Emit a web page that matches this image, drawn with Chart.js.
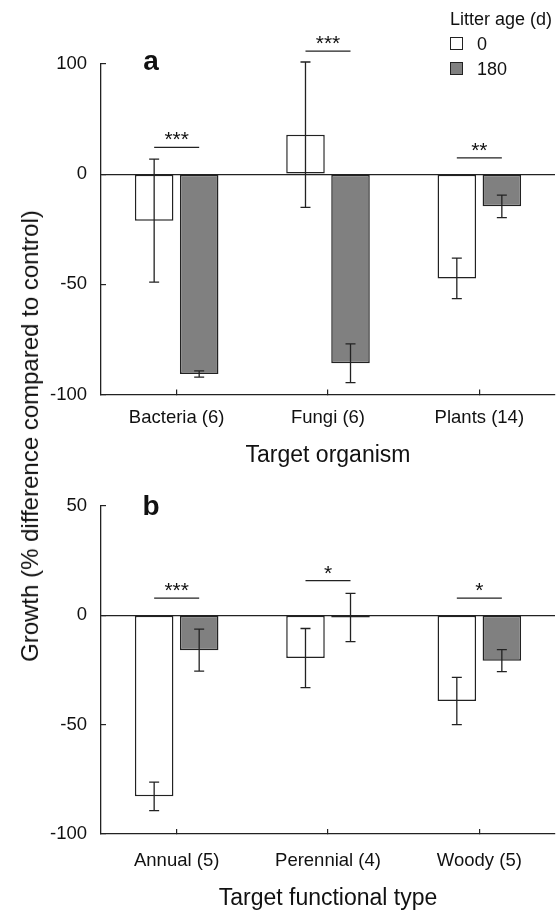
<!DOCTYPE html>
<html>
<head>
<meta charset="utf-8">
<script src="https://cdn.jsdelivr.net/npm/chart.js@4.4.1/dist/chart.umd.min.js"></script>
<style>
  body { margin:0; background:#fff; font-family:'Liberation Sans', Arial, sans-serif; color:#111; }
  #wrap { position:relative; width:556px; height:911px; overflow:hidden; }
  #boxA { position:absolute; left:0; top:0; width:556px; height:475px; }
  #boxB { position:absolute; left:0; top:475px; width:556px; height:437px; }
  #ytitle { position:absolute; left:30px; top:436px; transform:translate(-50%,-50%) rotate(-90deg); white-space:nowrap; font-size:24px; }
  #legend { position:absolute; left:450px; top:7px; font-size:18px; line-height:24px; }
  #legend .row { display:flex; align-items:center; height:25px; }
  #legend .sw { width:11px; height:11px; border:1px solid #222; margin-right:14px; }
</style>
</head>
<body>
<div id="wrap">
  <div id="boxA"><canvas id="chartA"></canvas></div>
  <div id="boxB"><canvas id="chartB"></canvas></div>
  <div id="ytitle">Growth (% difference compared to control)</div>
  <div id="legend">
    <div>Litter age (d)</div>
    <div class="row"><span class="sw" style="background:#fff"></span>0</div>
    <div class="row"><span class="sw" style="background:#808080"></span>180</div>
  </div>
</div>
<script>
// panel a - target organism
var catsA = ["Bacteria (6)", "Fungi (6)", "Plants (14)"];
var age0A = [-21.1, 17.9, -47.3];
var se0A = [27.9, 33, 9.2];
var age180A = [-90.7, -85.8, -14.6];
var se180A = [1.4, 8.8, 5.1];
var sigA = ["***", "***", "**"];
var sigLevelA = [12.2, 55.8, 7.4];
var tickValuesA = [50, 0, -50, -100];
var tickTextA = ["100", "0", "-50", "-100"];

// panel b - target functional type
var catsB = ["Annual (5)", "Perennial (4)", "Woody (5)"];
var age0B = [-82.8, -19.6, -39.2];
var se0B = [6.5, 13.5, 10.8];
var age180B = [-16.0, -1.1, -20.8];
var se180B = [9.6, 11, 5];
var sigB = ["***", "*", "*"];
var sigLevelB = [7.8, 15.8, 7.8];
var tickValuesB = [50, 0, -50, -100];
var tickTextB = ["50", "0", "-50", "-100"];

var ink = "#222";
Chart.defaults.font.family = "'Liberation Sans', Arial, sans-serif";
Chart.defaults.color = "#111";

var extras = {
  id: "extras",
  afterDatasetsDraw: function(chart, args, opts) {
    var ctx = chart.ctx, y = chart.scales.y, area = chart.chartArea;
    ctx.save();
    ctx.strokeStyle = ink;
    ctx.lineWidth = 1.3;
    // error bars
    chart.data.datasets.forEach(function(ds, i) {
      chart.getDatasetMeta(i).data.forEach(function(bar, j) {
        var top = y.getPixelForValue(ds.data[j] + ds.se[j]);
        var bot = y.getPixelForValue(ds.data[j] - ds.se[j]);
        ctx.beginPath();
        ctx.moveTo(bar.x, top); ctx.lineTo(bar.x, bot);
        ctx.moveTo(bar.x - 5, top); ctx.lineTo(bar.x + 5, top);
        ctx.moveTo(bar.x - 5, bot); ctx.lineTo(bar.x + 5, bot);
        ctx.stroke();
      });
    });
    // significance marks
    var m0 = chart.getDatasetMeta(0).data, m1 = chart.getDatasetMeta(1).data;
    ctx.fillStyle = "#111";
    ctx.font = "21px 'Liberation Sans', Arial, sans-serif";
    ctx.textAlign = "center";
    ctx.textBaseline = "alphabetic";
    opts.marks.forEach(function(mark, j) {
      var ly = y.getPixelForValue(opts.levels[j]);
      ctx.beginPath();
      ctx.moveTo(m0[j].x, ly); ctx.lineTo(m1[j].x, ly);
      ctx.stroke();
      ctx.fillText(mark, (m0[j].x + m1[j].x) / 2, ly - 1);
    });
    // panel letter
    ctx.font = "bold 28px 'Liberation Sans', Arial, sans-serif";
    ctx.fillText(opts.letter, area.left + 50, area.top + opts.letterDy);
    ctx.restore();
  }
};

function makeChart(id, cats, d0, e0, d180, e180, tickValues, tickText, marks, levels, letter, title, geo) {
  return new Chart(document.getElementById(id), {
    type: "bar",
    data: {
      labels: cats,
      datasets: [
        { label: "0", data: d0, se: e0, backgroundColor: "#ffffff", borderColor: ink, borderWidth: 1.5, borderSkipped: false },
        { label: "180", data: d180, se: e180, backgroundColor: "#808080", borderColor: ink, borderWidth: 1.5, borderSkipped: false }
      ]
    },
    options: {
      responsive: true,
      maintainAspectRatio: false,
      animation: false,
      categoryPercentage: 0.595,
      barPercentage: 0.856,
      layout: { padding: { top: geo.top, right: 1, left: 0, bottom: geo.bottom } },
      plugins: {
        legend: { display: false },
        tooltip: { enabled: false },
        extras: { marks: marks, levels: levels, letter: letter, letterDy: geo.letterDy }
      },
      scales: {
        x: {
          grid: { offset: false, drawOnChartArea: false, tickLength: -5, color: ink, lineWidth: 1.2 },
          border: { display: true, color: ink, width: 1.3 },
          ticks: { padding: geo.tickPad, font: { size: 18.5 }, color: "#111" },
          title: { display: true, text: title, font: { size: 23 }, color: "#111", padding: { top: 0, bottom: 0 } },
          afterFit: function(s) { s.height = geo.xHeight; }
        },
        y: {
          min: -100,
          max: 50,
          grid: {
            tickLength: -5,
            lineWidth: 1.2,
            tickColor: ink,
            color: function(c) { return c.tick && c.tick.value === 0 ? ink : "rgba(0,0,0,0)"; }
          },
          border: { display: true, color: ink, width: 1.3 },
          ticks: {
            stepSize: 50,
            padding: 19,
            font: { size: 18.5 },
            color: "#111",
            callback: function(v) { var k = tickValues.indexOf(v); return k < 0 ? "" : tickText[k]; }
          },
          afterFit: function(s) { s.width = 101; }
        }
      }
    },
    plugins: [extras]
  });
}

makeChart("chartA", catsA, age0A, se0A, age180A, se180A, tickValuesA, tickTextA, sigA, sigLevelA, "a",
  "Target organism", { top: 64, bottom: 5.9, xHeight: 74.6, tickPad: 17.2, letterDy: 6 });
makeChart("chartB", catsB, age0B, se0B, age180B, se180B, tickValuesB, tickTextB, sigB, sigLevelB, "b",
  "Target functional type", { top: 30.7, bottom: 0, xHeight: 78, tickPad: 21, letterDy: 9.3 });
</script>
</body>
</html>
